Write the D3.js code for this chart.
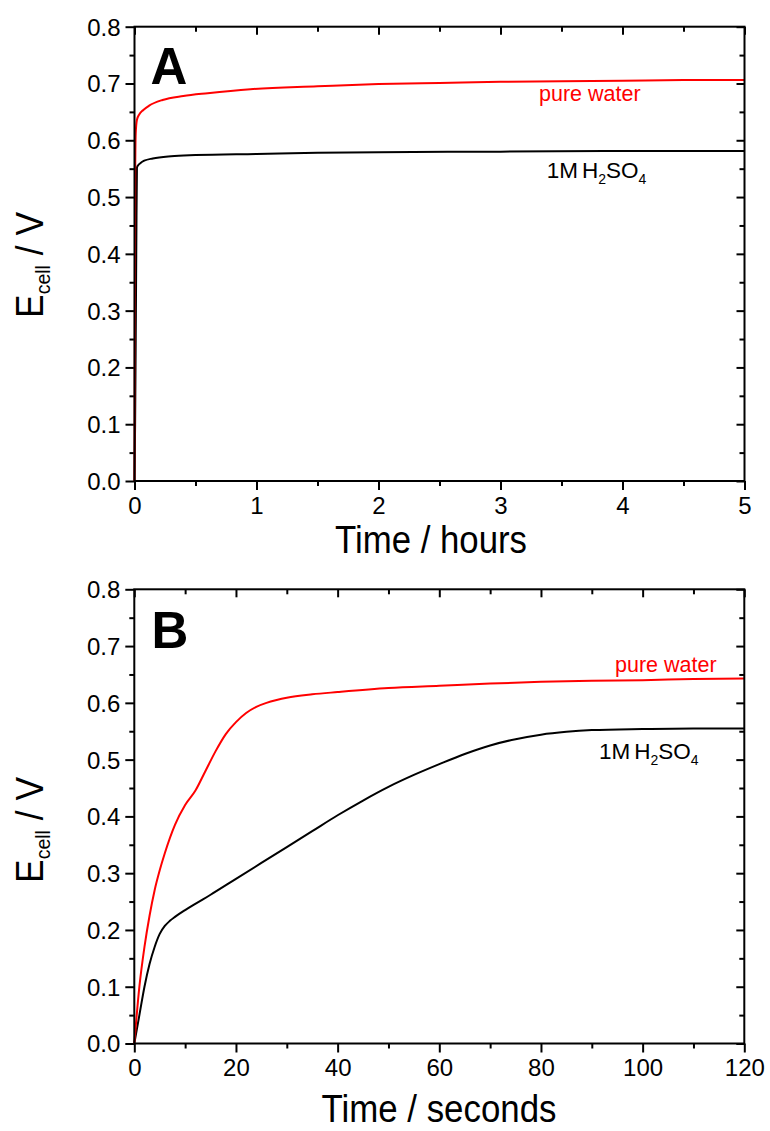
<!DOCTYPE html>
<html>
<head>
<meta charset="utf-8">
<script src="https://cdn.jsdelivr.net/npm/d3@7"></script>
<style>
  body { margin:0; background:#fff; }
  svg { display:block; font-family: Arial, "Liberation Sans", sans-serif; }
</style>
</head>
<body>
<script>
// panel A : time in hours
var waterA_t = [0, 0.003, 0.006, 0.01, 0.02, 0.04, 0.07, 0.12, 0.23, 0.4, 0.6, 0.95, 1.5, 2, 2.5, 3, 3.5, 4, 4.5, 5];
var waterA_v = [0, 0.30, 0.55, 0.612, 0.636, 0.646, 0.653, 0.661, 0.671, 0.678, 0.683, 0.690, 0.695, 0.699, 0.701, 0.703, 0.704, 0.705, 0.706, 0.706];
var acidA_t = [0, 0.005, 0.01, 0.015, 0.02, 0.03, 0.05, 0.08, 0.15, 0.3, 0.5, 1, 1.5, 2, 3, 4, 5];
var acidA_v = [0, 0.10, 0.25, 0.42, 0.552, 0.556, 0.560, 0.564, 0.568, 0.572, 0.574, 0.576, 0.578, 0.579, 0.580, 0.581, 0.581];

// panel B : time in seconds
var waterB_t = [0, 1, 2, 3, 4, 5, 6, 8, 10, 12, 14, 16, 18, 20, 22, 24, 26, 28, 30, 35, 40, 50, 60, 70, 80, 90, 100, 110, 120];
var waterB_v = [0, 0.10, 0.17, 0.225, 0.27, 0.305, 0.335, 0.385, 0.42, 0.445, 0.48, 0.515, 0.545, 0.566, 0.582, 0.593, 0.600, 0.605, 0.609, 0.615, 0.619, 0.626, 0.630, 0.634, 0.637, 0.639, 0.640, 0.642, 0.643];
var acidB_t = [0, 1, 2, 3, 4, 5, 6, 7, 8, 10, 12, 15, 20, 25, 30, 35, 40, 45, 50, 55, 60, 65, 70, 75, 80, 85, 90, 100, 110, 120];
var acidB_v = [0, 0.05, 0.10, 0.14, 0.17, 0.193, 0.207, 0.216, 0.223, 0.235, 0.246, 0.262, 0.290, 0.318, 0.346, 0.374, 0.402, 0.428, 0.452, 0.473, 0.492, 0.510, 0.525, 0.536, 0.544, 0.549, 0.552, 0.554, 0.555, 0.555];

var yTicks = [0, 0.1, 0.2, 0.3, 0.4, 0.5, 0.6, 0.7, 0.8];
var yMinor = [0.05, 0.15, 0.25, 0.35, 0.45, 0.55, 0.65, 0.75];
var xTicksA = [0, 1, 2, 3, 4, 5];
var xMinorA = [0.5, 1.5, 2.5, 3.5, 4.5];
var xTicksB = [0, 20, 40, 60, 80, 100, 120];
var xMinorB = [10, 30, 50, 70, 90, 110];

var width = 770, height = 1131;
var svg = d3.select("body").append("svg")
  .attr("width", width)
  .attr("height", height);

var panels = [
  {top: 26.7, bottom: 481, left: 134.5, right: 744.5, xmax: 5, ticks: xTicksA, minor: xMinorA,
   water: [waterA_t, waterA_v], acid: [acidA_t, acidA_v], letter: "A", letterX: 150.5, letterY: 84,
   xtitle: "Time / hours", xtitleLen: 192, xtitleX: 431, xtitleY: 553,
   ytitleY: 265, waterLab: [539, 100.7], acidLab: [546.7, 178]},
  {top: 589.3, bottom: 1043.5, left: 134.3, right: 744.3, xmax: 120, ticks: xTicksB, minor: xMinorB,
   water: [waterB_t, waterB_v], acid: [acidB_t, acidB_v], letter: "B", letterX: 151.5, letterY: 648,
   xtitle: "Time / seconds", xtitleLen: 235, xtitleX: 439, xtitleY: 1121.5,
   ytitleY: 830, waterLab: [615, 671.7], acidLab: [599, 759]}
];

panels.forEach(drawPanel);

function drawPanel(p) {
  var x = d3.scaleLinear().domain([0, p.xmax]).range([p.left, p.right]);
  var y = d3.scaleLinear().domain([0, 0.8]).range([p.bottom, p.top]);
  var g = svg.append("g");

  // major + minor ticks on all four sides (outer on bottom/left, inner on top/right)
  function axisPart(axisFn, scale, vals, size, transform, fmt) {
    var ax = axisFn(scale).tickValues(vals).tickSize(size).tickSizeOuter(0).tickPadding(6)
      .tickFormat(fmt ? d3.format(fmt) : "");
    var a = g.append("g").attr("transform", transform).call(ax)
      .attr("font-family", null).attr("font-size", 24);
    a.select(".domain").remove();
    a.selectAll("line").attr("stroke", "#000").attr("stroke-width", 2);
    a.selectAll("text").attr("fill", "#000");
    return a;
  }

  var bx = axisPart(d3.axisBottom, x, p.ticks, 9, "translate(0," + p.bottom + ")", "d");
  bx.selectAll("text").attr("dy", null).attr("y", 32.5);
  axisPart(d3.axisBottom, x, p.minor, 5, "translate(0," + p.bottom + ")");
  axisPart(d3.axisTop, x, p.ticks, -8, "translate(0," + p.top + ")");
  axisPart(d3.axisTop, x, p.minor, -5, "translate(0," + p.top + ")");

  var ly = axisPart(d3.axisLeft, y, yTicks, 9, "translate(" + p.left + ",0)", ".1f");
  ly.selectAll("text").attr("dy", "0.35em").attr("x", -14);
  axisPart(d3.axisLeft, y, yMinor, 5, "translate(" + p.left + ",0)");
  axisPart(d3.axisRight, y, yTicks, -8, "translate(" + p.right + ",0)");
  axisPart(d3.axisRight, y, yMinor, -5, "translate(" + p.right + ",0)");

  // lines
  var line = d3.line().curve(d3.curveMonotoneX)
    .x(function(d) { return x(d[0]); })
    .y(function(d) { return y(d[1]); });

  g.append("path")
    .datum(d3.zip(p.acid[0], p.acid[1]))
    .attr("d", line).attr("fill", "none").attr("stroke", "#000").attr("stroke-width", 2);
  g.append("path")
    .datum(d3.zip(p.water[0], p.water[1]))
    .attr("d", line).attr("fill", "none").attr("stroke", "#ff0000").attr("stroke-width", 2);

  // frame
  g.append("rect")
    .attr("x", p.left).attr("y", p.top)
    .attr("width", p.right - p.left).attr("height", p.bottom - p.top)
    .attr("fill", "none").attr("stroke", "#000").attr("stroke-width", 2);

  // panel letter
  g.append("text").attr("x", p.letterX).attr("y", p.letterY)
    .attr("font-size", 51).attr("font-weight", "bold").text(p.letter);

  // labels
  g.append("text").attr("x", p.waterLab[0]).attr("y", p.waterLab[1])
    .attr("font-size", 21.5).attr("fill", "#ff0000").text("pure water");

  var acid = g.append("text").attr("x", p.acidLab[0]).attr("y", p.acidLab[1])
    .attr("font-size", 22.5).attr("fill", "#000");
  acid.append("tspan").text("1M");
  acid.append("tspan").attr("dx", 4).text("H");
  acid.append("tspan").attr("font-size", 14).attr("dy", 6).text("2");
  acid.append("tspan").attr("dy", -6).text("SO");
  acid.append("tspan").attr("font-size", 14).attr("dy", 6).text("4");

  // x title
  g.append("text").attr("x", p.xtitleX).attr("y", p.xtitleY)
    .attr("text-anchor", "middle").attr("font-size", 38)
    .attr("textLength", p.xtitleLen).attr("lengthAdjust", "spacingAndGlyphs")
    .text(p.xtitle);

  // y title
  var yt = g.append("text")
    .attr("transform", "translate(43," + p.ytitleY + ") rotate(-90) scale(0.93,1)")
    .attr("text-anchor", "middle").attr("font-size", 38);
  yt.append("tspan").text("E");
  yt.append("tspan").attr("font-size", 21).attr("dy", 7).text("cell");
  yt.append("tspan").attr("dy", -7).text(" / V");
}
</script>
</body>
</html>
